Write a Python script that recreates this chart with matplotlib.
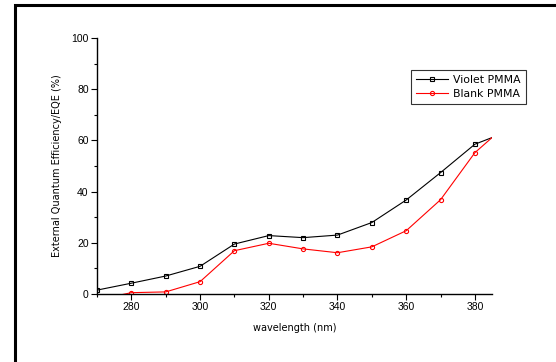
import matplotlib
matplotlib.use("Agg")
import matplotlib.pyplot as plt
from matplotlib.patches import Rectangle
from matplotlib.ticker import MultipleLocator

# wavelength (nm) and EQE (%)
wavelength = [270, 280, 290, 300, 310, 320, 330, 340, 350, 360, 370, 380, 390]
violet_pmma = [1.5, 4.2, 7.0, 10.8, 19.5, 22.8, 22.0, 23.0, 27.9, 36.7, 47.4, 58.5, 63.7]
blank_pmma = [-2.3, 0.5, 0.8, 4.8, 16.9, 19.8, 17.6, 16.1, 18.4, 24.7, 36.8, 55.2, 67.0]

fig = plt.figure(figsize=(5.56, 3.62), dpi=100)
ax = fig.add_axes([0.1745, 0.188, 0.7105, 0.707])

ax.plot(wavelength, violet_pmma, color='black', lw=0.8, marker='s', ms=3,
        mfc='none', mew=0.8, label='Violet PMMA')
ax.plot(wavelength, blank_pmma, color='red', lw=0.8, marker='o', ms=3,
        mfc='none', mew=0.8, label='Blank PMMA')

ax.set_xlim(270, 385)
ax.set_ylim(0, 100)
ax.xaxis.set_major_locator(MultipleLocator(20))
ax.xaxis.set_minor_locator(MultipleLocator(10))
ax.yaxis.set_major_locator(MultipleLocator(20))
ax.yaxis.set_minor_locator(MultipleLocator(10))

for side in ['top', 'right']:
    ax.spines[side].set_visible(False)
for side in ['left', 'bottom']:
    ax.spines[side].set_linewidth(1.0)
ax.tick_params(which='major', direction='out', length=4, width=0.8,
               labelsize=7.5, pad=2)
ax.tick_params(which='minor', direction='out', length=2.5, width=0.8)
for lab in ax.get_xticklabels() + ax.get_yticklabels():
    lab.set_family('Liberation Sans')

ax.set_xlabel('wavelength (nm)', fontsize=7, labelpad=8)
ax.set_ylabel('External Quantum Efficiency/EQE (%)', fontsize=7, labelpad=7)

leg = ax.legend(loc='upper left', bbox_to_anchor=(0.794, 0.876), fontsize=7.8,
                frameon=True, fancybox=False, handlelength=3.0,
                borderpad=0.45, labelspacing=0.4, handletextpad=0.5,
                borderaxespad=0)
leg.get_frame().set_edgecolor('black')
leg.get_frame().set_linewidth(0.8)

# outer frame, cut off at the right and bottom like the reference
fig.patches.append(Rectangle((15 / 556, -0.1), 1.2, 1 - 4.5 / 362 + 0.1,
                             transform=fig.transFigure, fill=False,
                             edgecolor='black', lw=2.2))

fig.savefig('out.png', dpi=100)
